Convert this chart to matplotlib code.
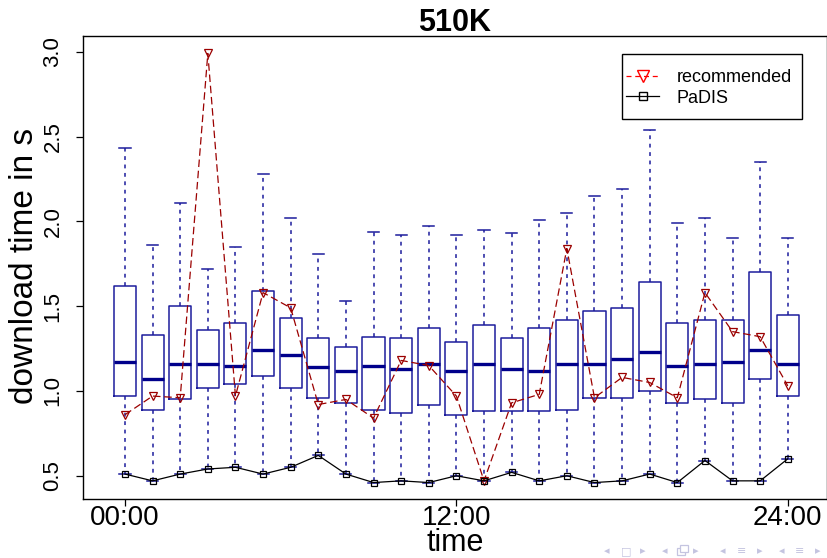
import matplotlib
matplotlib.use('Agg')
import matplotlib.pyplot as plt
from matplotlib.lines import Line2D
from matplotlib.patches import Rectangle

plt.rcParams['font.family'] = ['Liberation Sans', 'DejaVu Sans']

# hours of the day, one box per hour
hours = list(range(25))
cap_hi = [2.43, 1.86, 2.11, 1.72, 1.85, 2.28, 2.02, 1.81, 1.53, 1.94, 1.92, 1.97, 1.92,
          1.95, 1.93, 2.01, 2.05, 2.15, 2.19, 2.54, 1.99, 2.02, 1.90, 2.35, 1.90]
q3 = [1.62, 1.33, 1.50, 1.36, 1.40, 1.59, 1.43, 1.31, 1.26, 1.32, 1.31, 1.37, 1.29,
      1.39, 1.31, 1.37, 1.42, 1.47, 1.49, 1.64, 1.40, 1.42, 1.42, 1.70, 1.45]
med = [1.17, 1.07, 1.16, 1.16, 1.15, 1.24, 1.21, 1.14, 1.12, 1.15, 1.13, 1.16, 1.12,
       1.16, 1.13, 1.12, 1.16, 1.16, 1.19, 1.23, 1.15, 1.16, 1.17, 1.24, 1.16]
q1 = [0.97, 0.89, 0.95, 1.02, 1.04, 1.09, 1.02, 0.96, 0.93, 0.89, 0.87, 0.92, 0.86,
      0.88, 0.88, 0.88, 0.89, 0.96, 0.96, 1.00, 0.93, 0.95, 0.93, 1.07, 0.97]
padis = [0.51, 0.47, 0.51, 0.54, 0.55, 0.51, 0.55, 0.62, 0.51, 0.46, 0.47, 0.46, 0.50,
         0.47, 0.52, 0.47, 0.50, 0.46, 0.47, 0.51, 0.46, 0.59, 0.47, 0.47, 0.60]
recommended = [0.86, 0.97, 0.96, 2.99, 0.97, 1.58, 1.49, 0.92, 0.95, 0.84, 1.18, 1.15, 0.97,
               0.47, 0.93, 0.98, 1.84, 0.96, 1.08, 1.05, 0.96, 1.58, 1.35, 1.32, 1.03]
tick_hours = [0, 12, 24]
tick_labels = ['00:00', '12:00', '24:00']

W, H = 828, 558
fig = plt.figure(figsize=(W / 100, H / 100), dpi=100)
ax = fig.add_axes([83 / W, 1 - 499 / H, 744 / W, 463 / H])

box_col = '#1c1c9c'
stats = []
for i in range(len(hours)):
    stats.append(dict(med=med[i], q1=q1[i], q3=q3[i], whislo=padis[i],
                      whishi=cap_hi[i], fliers=[]))
ax.bxp(stats, positions=hours, widths=0.8, showfliers=False, manage_ticks=False,
       boxprops=dict(color=box_col, linewidth=1.1),
       whiskerprops=dict(color=box_col, linewidth=1.1, linestyle=(0, (2.5, 3))),
       capprops=dict(color=box_col, linewidth=1.1),
       medianprops=dict(color='#00008b', linewidth=2.4))

ax.plot(hours, recommended, color='#9b0000', linewidth=0.9, linestyle=(0, (6, 3)),
        marker='v', markersize=6, markerfacecolor='none', markeredgecolor='#9b0000',
        markeredgewidth=0.9, zorder=4)
ax.plot(hours, padis, color='black', linewidth=0.9, marker='s', markersize=4.5,
        markerfacecolor='none', markeredgecolor='black', markeredgewidth=0.9, zorder=5)

ax.set_xlim(-1.52, 25.42)
ax.set_ylim(0.363, 3.093)
ax.set_xticks(tick_hours)
ax.set_xticklabels(tick_labels)
ax.set_yticks([0.5, 1.0, 1.5, 2.0, 2.5, 3.0])
ax.set_yticklabels(['0.5', '1.0', '1.5', '2.0', '2.5', '3.0'], rotation=90, va='center')
ax.tick_params(axis='both', direction='out', length=5, width=0.9)
ax.tick_params(axis='x', labelsize=20, pad=-1)
ax.tick_params(axis='y', labelsize=16, pad=9)
for s in ax.spines.values():
    s.set_linewidth(1.0)

ax.set_ylabel('download time in s', fontsize=24, va='center')
ax.yaxis.set_label_coords((25 - 83) / 744, (H - 266 - 59) / 463)
ax.set_xlabel('time', fontsize=22, va='top')
ax.xaxis.set_label_coords(0.5, -(528 - 499) / 463)

fig.text(ax.get_position().x0 + ax.get_position().width / 2, 1 - 31 / H, '510K',
         ha='center', va='baseline', fontsize=22, fontweight='bold')

# legend with a hand-placed frame
handles = [Line2D([], [], color='red', linewidth=0.9, linestyle=(0, (4, 3)), marker='v',
                  markersize=9, markerfacecolor='none', markeredgecolor='red'),
           Line2D([], [], color='black', linewidth=0.9, marker='s', markersize=6,
                  markerfacecolor='none', markeredgecolor='black')]
fig.legend(handles, ['recommended', 'PaDIS'], loc='upper left',
           bbox_to_anchor=(626 / W, 1 - 69 / H), frameon=False, fontsize=13,
           borderpad=0, borderaxespad=0, labelspacing=0.2, handlelength=1.85,
           handletextpad=0.95)
fig.add_artist(Rectangle((622 / W, 1 - 119 / H), 180 / W, 65 / H, transform=fig.transFigure,
                         fill=False, edgecolor='black', linewidth=1.0))

# beamer navigation symbols
nav_col = '#c4c4e0'
nav = [(607, '◂'), (626, '□'), (643, '▸'), (665, '◂'), (696, '▸'),
       (723, '◂'), (742, '≡'), (760, '▸'), (782, '◂'), (800, '≡'), (818, '▸')]
for x, ch in nav:
    fig.text(x / W, 1 - 551 / H, ch, ha='center', va='center', fontsize=8,
             color=nav_col, family=['DejaVu Sans', 'Noto Sans'])
# stacked-frames symbol (no installed font has it)
for dx, dy in [(0, 0), (3, -3)]:
    fig.add_artist(Rectangle(((677 + dx) / W, 1 - (555 + dy) / H), 8 / W, 7 / H,
                             transform=fig.transFigure, facecolor='white',
                             edgecolor=nav_col, linewidth=0.9))

fig.savefig('out.png', dpi=100)
